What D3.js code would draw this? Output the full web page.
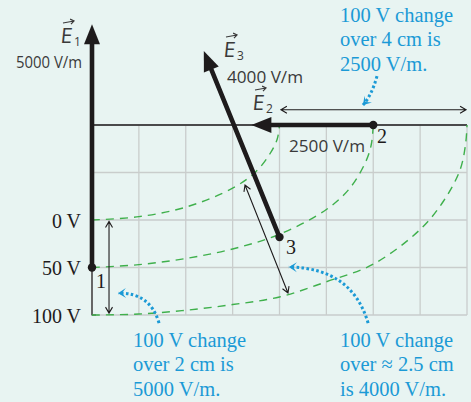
<!DOCTYPE html>
<html><head><meta charset="utf-8">
<script src="https://cdn.jsdelivr.net/npm/d3@7"></script>
<style>html,body{margin:0;padding:0;background:#e8f4f2;}svg{display:block;}</style>
</head><body>
<svg id="c" width="471" height="402"></svg>
<script>
// ---- data (cm on the grid, y measured downward from the top grid line) ----
const potentialLabels = ["0 V", "50 V", "100 V"];
const potentialDepth = [2, 3, 4];
const eq0V = [[0,2],[1,1.93],[2,1.73],[3,1.33],[3.5,0.98],[3.8,0.6],[3.95,0.3],[4,0]];
const eq50V = [[0,3],[1,2.94],[2,2.81],[3,2.61],[4,2.3],[5,1.78],[5.5,1.33],[5.85,0.75],[5.96,0.4],[6,0]];
const eq100V = [[0,4],[1,3.98],[2,3.9],[3,3.78],[4,3.62],[5,3.3],[6,2.93],[7,2.2],[7.5,1.6],[7.85,0.95],[7.97,0.4],[8,0]];
const pointLabels = ["1", "2", "3"];
const pointX = [0, 6, 4.0];
const pointY = [3, 0, 2.36];
const fieldDX = [0, -2.6, -1.615];
const fieldDY = [-5.12, 0, -3.92];
const fieldNames = ["1", "2", "3"];
const fieldValues = ["5000 V/m", "2500 V/m", "4000 V/m"];
const noteTop = ["100 V change", "over 4 cm is", "2500 V/m."];
const noteLeft = ["100 V change", "over 2 cm is", "5000 V/m."];
const noteRight = ["100 V change", "over \u2248 2.5 cm", "is 4000 V/m."];

const svg = d3.select("#c");
const x = d3.scaleLinear().domain([0, 8]).range([92, 467]);
const y = d3.scaleLinear().domain([0, 4]).range([125, 315]);
const BLUE = "#1b9ad6", GREEN = "#3fb04c", INK = "#1e1b1c", HAND = "#3a3a3a";

svg.append("rect").attr("width", 471).attr("height", 402).attr("fill", "#e8f4f2");

// grid
const g = svg.append("g");
g.selectAll(".vx").data(x.ticks(8)).join("line")
  .attr("x1", d => x(d)).attr("x2", d => x(d)).attr("y1", y(0)).attr("y2", y(4))
  .attr("stroke", "#c9cdcc").attr("stroke-width", 1.3);
g.selectAll(".hy").data(y.ticks(4)).join("line")
  .attr("x1", x(0)).attr("x2", x(8)).attr("y1", d => y(d)).attr("y2", d => y(d))
  .attr("stroke", "#c9cdcc").attr("stroke-width", 1.3);
// top boundary
g.append("line").attr("x1", x(0)).attr("x2", x(8)).attr("y1", y(0)).attr("y2", y(0))
  .attr("stroke", INK).attr("stroke-width", 1.3);
// left edge below point 1
g.append("path").attr("d", `M${x(0)},${y(3)}V${y(4)}h4`).attr("fill", "none")
  .attr("stroke", INK).attr("stroke-width", 1.2);

// equipotentials
const line = d3.line().x(d => x(d[0])).y(d => y(d[1])).curve(d3.curveCatmullRom);
[eq0V, eq50V, eq100V].forEach(c => {
  svg.append("path").attr("d", line(c)).attr("fill", "none").attr("stroke", GREEN)
    .attr("stroke-width", 1.4).attr("stroke-dasharray", "8,6");
});

// potential labels
potentialLabels.forEach((t, i) => {
  svg.append("text").attr("x", 81).attr("y", y(potentialDepth[i]) + 7.5)
    .attr("text-anchor", "end").attr("font-family", "Liberation Serif").attr("font-size", 20)
    .attr("fill", INK).text(t);
});

// thin double arrows
function openHead(x0, y0, x1, y1, len, hw) {
  const a = Math.atan2(y1 - y0, x1 - x0);
  const bx = x1 - len * Math.cos(a), by = y1 - len * Math.sin(a);
  const px = -Math.sin(a) * hw, py = Math.cos(a) * hw;
  return `M${bx + px},${by + py}L${x1},${y1}L${bx - px},${by - py}`;
}
function dbl(a, b) {
  const x0 = x(a[0]), y0 = y(a[1]), x1 = x(b[0]), y1 = y(b[1]);
  svg.append("path")
    .attr("d", `M${x0},${y0}L${x1},${y1}` + openHead(x0, y0, x1, y1, 6, 3.5) + openHead(x1, y1, x0, y0, 6, 3.5))
    .attr("fill", "none").attr("stroke", INK).attr("stroke-width", 1.1);
}
dbl([0.363, 2.03], [0.363, 3.96]);
dbl([3.264, 1.263], [4.181, 3.537]);
dbl([4.03, -0.32], [7.98, -0.32]);

// field vectors
pointLabels.forEach((lab, i) => {
  const x0 = x(pointX[i]), y0 = y(pointY[i]);
  const x1 = x(pointX[i] + fieldDX[i]), y1 = y(pointY[i] + fieldDY[i]);
  const a = Math.atan2(y1 - y0, x1 - x0);
  const hl = 20, hw = 8;
  const bx = x1 - hl * Math.cos(a), by = y1 - hl * Math.sin(a);
  const px = -Math.sin(a) * hw, py = Math.cos(a) * hw;
  svg.append("line").attr("x1", x0).attr("y1", y0).attr("x2", bx + 2 * Math.cos(a)).attr("y2", by + 2 * Math.sin(a))
    .attr("stroke", INK).attr("stroke-width", 4.6).attr("stroke-linecap", "round");
  svg.append("path").attr("d", `M${x1},${y1}L${bx + px},${by + py}L${bx - px},${by - py}Z`).attr("fill", INK);
  svg.append("circle").attr("cx", x0).attr("cy", y0).attr("r", 4.2).attr("fill", INK);
});

// point labels
const plPos = [[96, 288], [377, 143], [286, 254]];
pointLabels.forEach((t, i) => {
  svg.append("text").attr("x", plPos[i][0]).attr("y", plPos[i][1])
    .attr("font-family", "Liberation Serif").attr("font-size", 20).attr("fill", INK).text(t);
});

// handwritten field labels
const eLab = [[60, 43], [252, 110], [223, 57]];
const vLab = [[16, 68, 66], [289, 152, 76], [227, 83, 76]];
fieldNames.forEach((n, i) => {
  const [ex, ey] = eLab[i];
  svg.append("text").attr("x", ex).attr("y", ey).attr("font-family", "Open Sans").attr("font-size", 21)
    .attr("transform", `skewX(-6)`).attr("dx", ey * Math.tan(6 * Math.PI / 180))
    .attr("fill", HAND).text("E");
  svg.append("text").attr("x", ex + 14).attr("y", ey + 3).attr("font-family", "Open Sans").attr("font-size", 12)
    .attr("fill", HAND).text(n);
  svg.append("path").attr("d", `M${ex + 3},${ey - 20}L${ex + 14},${ey - 22}` + openHead(ex + 3, ey - 20, ex + 14, ey - 22, 3.5, 2.5))
    .attr("fill", "none").attr("stroke", HAND).attr("stroke-width", 1.2);
  const [vx, vy, vl] = vLab[i];
  svg.append("text").attr("x", vx).attr("y", vy).attr("font-family", "Open Sans").attr("font-size", 16)
    .attr("textLength", vl).attr("lengthAdjust", "spacingAndGlyphs")
    .attr("fill", HAND).text(fieldValues[i]);
});

// blue dotted arrows
function blueArrow(s, c, e) {
  const p = d3.path();
  p.moveTo(x(s[0]), y(s[1])); p.quadraticCurveTo(x(c[0]), y(c[1]), x(e[0]), y(e[1]));
  svg.append("path").attr("d", p.toString()).attr("fill", "none").attr("stroke", BLUE)
    .attr("stroke-width", 3).attr("stroke-dasharray", "2.6,2.4");
  const ex = x(e[0]), ey = y(e[1]);
  const a = Math.atan2(ey - y(c[1]), ex - x(c[0]));
  const L = 8, W = 5;
  const bx = ex - L * Math.cos(a), by = ey - L * Math.sin(a);
  const nx = ex - 4 * Math.cos(a), ny = ey - 4 * Math.sin(a);
  const px = -Math.sin(a) * W, py = Math.cos(a) * W;
  svg.append("path").attr("d", `M${ex},${ey}L${bx + px},${by + py}L${nx},${ny}L${bx - px},${by - py}Z`).attr("fill", BLUE);
}
blueArrow([1.43, 4.17], [1.24, 3.52], [0.555, 3.54]);
blueArrow([5.89, 4.17], [5.55, 3.01], [4.2, 2.99]);
blueArrow([6.08, -1.03], [5.97, -0.63], [5.78, -0.42]);

// blue notes
function note(lines, x0, y0) {
  lines.forEach((t, i) => {
    svg.append("text").attr("x", x0).attr("y", y0 + i * 24.3).attr("font-family", "Liberation Serif")
      .attr("font-size", 20.5).attr("fill", BLUE).text(t);
  });
}
note(noteTop, 340, 22);
note(noteLeft, 133, 347);
note(noteRight, 340, 347);
</script>
</body></html>
